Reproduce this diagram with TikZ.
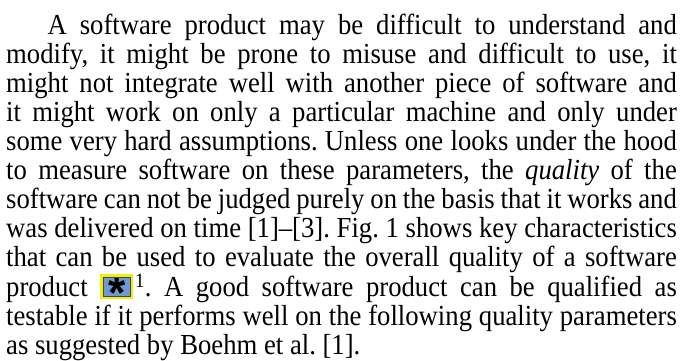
\documentclass[tikz,border=0pt]{standalone}
\usepackage{fontspec}
\setmainfont{Liberation Serif}
\newfontfamily\iconfont{Liberation Sans}

\definecolor{notefill}{RGB}{112,152,210}
\definecolor{noteedge}{RGB}{240,240,0}
\definecolor{noteline}{RGB}{60,70,90}

% comment marker: yellow frame, blue face, bold asterisk
\newcommand{\notemark}{%
  \raisebox{1pt}{{\setlength\fboxsep{0pt}\setlength\fboxrule{2.7pt}%
  \fcolorbox{noteedge}{notefill}{\setlength\fboxrule{0.8pt}%
  \fcolorbox{noteline}{notefill}{\makebox[29pt]{\raisebox{-14pt}[18.5pt][0pt]{\iconfont\bfseries\fontsize{48}{48}\selectfont *}}}}}}\hspace{2pt}}

% narrow set paragraph, squeezed sideways
\tikzset{paragraph/.style={inner sep=0pt, text width=729pt, align=justify,
  xscale=0.92, transform shape,
  font=\fontsize{29}{29}\selectfont\frenchspacing}}

\begin{document}
\begin{tikzpicture}
\useasboundingbox (0,0) rectangle (683pt,360pt);
\node[paragraph, anchor=north west] (para) at (6pt,346pt) {%
\hspace*{45pt}A software product may be difficult to understand and\linebreak
modify, it might be prone to misuse and difficult to use, it\linebreak
might not integrate well with another piece of software and\linebreak
it might work on only a particular machine and only under\linebreak
some very hard assumptions. Unless one looks under the hood\linebreak
to measure software on these parameters, the \textit{quality} of the\linebreak
software can not be judged purely on the basis that it works and\linebreak
was delivered on time [1]--[3]. Fig.~1 shows key characteristics\linebreak
that can be used to evaluate the overall quality of a software\linebreak
product \notemark\textsuperscript{1}. A good software product can be qualified as\linebreak
testable if it performs well on the following quality parameters\linebreak
as suggested by Boehm et al. [1].};
\end{tikzpicture}
\end{document}
